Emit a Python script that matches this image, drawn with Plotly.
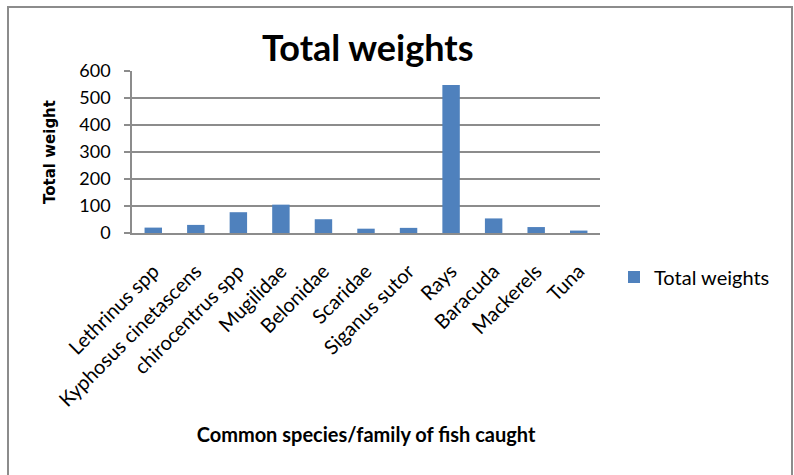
import plotly.graph_objects as go

categories = ["Lethrinus spp", "Kyphosus cinetascens", "chirocentrus spp", "Mugilidae",
              "Belonidae", "Scaridae", "Siganus sutor", "Rays", "Baracuda", "Mackerels", "Tuna"]
weights = [20, 30, 77, 105, 51, 16, 19, 548, 54, 22, 9]
y_ticks = [0, 100, 200, 300, 400, 500, 600]

W, H = 794, 475
L, R, T, B = 132, 194, 71, 242
pw, ph = W - L - R, H - T - B

def px_x(x):
    return (x - L) / pw

def px_y(y):
    return (H - B - y) / ph

fig = go.Figure()
fig.add_trace(go.Bar(x=categories, y=weights, name="Total weights",
                     marker=dict(color="#4F81BD", line=dict(width=0)),
                     showlegend=True))

fig.update_layout(
    width=W, height=H,
    margin=dict(l=L, r=R, t=T, b=B, autoexpand=False),
    paper_bgcolor="white", plot_bgcolor="white",
    bargap=0.59,
    font=dict(family="Lato", color="black"),
    title=dict(text="<b>Total weights</b>", x=400 / W, xanchor="center",
               y=1 - 48 / H, yanchor="middle", xref="paper", yref="container",
               font=dict(family="Lato", size=36, color="black")),
    showlegend=True,
    legend=dict(x=px_x(614), y=px_y(277), xanchor="left", yanchor="middle",
                font=dict(family="Lato", size=20, color="black"),
                bgcolor="rgba(0,0,0,0)", itemwidth=30),
    xaxis=dict(
        showgrid=False, showline=True, linecolor="#8c8c8c", linewidth=1.5,
        ticks="", tickangle=-45, tickfont=dict(family="Lato", size=20, color="black"),
        ticklabelstandoff=17,
        title=dict(text="<b>Common species/family of fish caught</b>",
                   font=dict(family="Lato", size=20, color="black"), standoff=18),
    ),
    yaxis=dict(
        range=[0, 600], tickvals=y_ticks, showgrid=True, gridcolor="#8c8c8c", gridwidth=1.5,
        showline=True, linecolor="#8c8c8c", linewidth=1.5,
        ticks="outside", ticklen=6, tickcolor="#8c8c8c", tickwidth=1.5,
        tickfont=dict(family="Lato", size=18, color="black"),
        ticklabelstandoff=10,
        zeroline=False,
        title=dict(text="<b>Total weight</b>",
                   font=dict(family="DejaVu Sans", size=15, color="black"), standoff=20),
    ),
    shapes=[dict(type="rect", xref="paper", yref="paper",
                 x0=px_x(8), x1=px_x(792), y0=px_y(480), y1=px_y(7),
                 line=dict(color="#8c8c8c", width=2), fillcolor="rgba(0,0,0,0)", layer="below")],
)

fig.write_html("out.html")
